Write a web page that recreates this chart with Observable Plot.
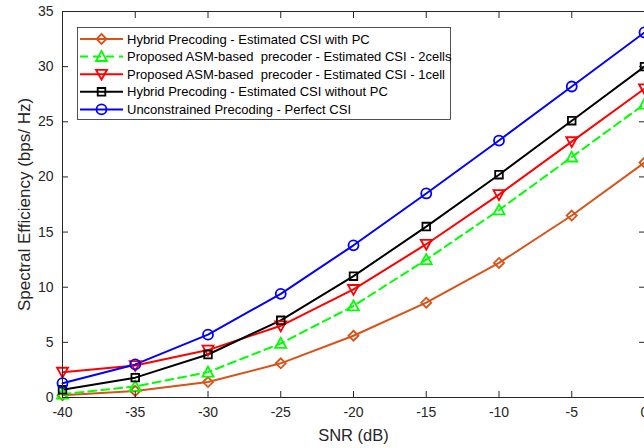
<!DOCTYPE html>
<html><head><meta charset="utf-8">
<script src="https://cdn.jsdelivr.net/npm/d3@7"></script>
<script src="https://cdn.jsdelivr.net/npm/@observablehq/plot@0.6"></script>
<style>
body{margin:0;background:#fff;}
#chart{position:relative;width:644px;height:448px;overflow:hidden;}
</style></head><body><div id="chart"></div>
<script>
// ---- data ----
const snr = [-40, -35, -30, -25, -20, -15, -10, -5, 0];
const seriesNames = [
  "Hybrid Precoding - Estimated CSI with PC",
  "Proposed ASM-based  precoder - Estimated CSI - 2cells",
  "Proposed ASM-based  precoder - Estimated CSI - 1cell",
  "Hybrid Precoding - Estimated CSI without PC",
  "Unconstrained Precoding - Perfect CSI"
];
const hybridPC      = [0.2, 0.6, 1.4, 3.1, 5.6, 8.6, 12.2, 16.5, 21.3];
const asm2cells     = [0.3, 1.0, 2.3, 4.9, 8.3, 12.5, 17.0, 21.8, 26.6];
const asm1cell      = [2.3, 2.9, 4.3, 6.5, 9.8, 13.9, 18.4, 23.2, 28.0];
const hybridNoPC    = [0.7, 1.8, 3.9, 7.0, 11.0, 15.5, 20.2, 25.1, 30.0];
const unconstrained = [1.3, 3.0, 5.7, 9.4, 13.8, 18.5, 23.3, 28.2, 33.1];
const xTicks = [-40, -35, -30, -25, -20, -15, -10, -5, 0];
const yTicks = [0, 5, 10, 15, 20, 25, 30, 35];
const xLabel = "SNR (dB)";
const yLabel = "Spectral Efficiency (bps/ Hz)";

// ---- styles ----
const allValues = [hybridPC, asm2cells, asm1cell, hybridNoPC, unconstrained];
const colors = ["#D95319", "#00FF00", "#FF0000", "#000000", "#0000FF"];
const dashes = [null, "8,5", null, null, null];
const triUp = {draw(ctx, size){ const a = Math.sqrt(size/Math.PI); ctx.moveTo(0,-a); ctx.lineTo(a,0.8*a); ctx.lineTo(-a,0.8*a); ctx.closePath(); }};
const triDown = {draw(ctx, size){ const a = Math.sqrt(size/Math.PI); ctx.moveTo(0,a); ctx.lineTo(a,-0.8*a); ctx.lineTo(-a,-0.8*a); ctx.closePath(); }};
const sq = {draw(ctx, size){ const a = Math.sqrt(size/Math.PI); ctx.rect(-a,-a,2*a,2*a); }};
const dia = {draw(ctx, size){ const a = Math.sqrt(size/Math.PI); ctx.moveTo(0,-a); ctx.lineTo(a,0); ctx.lineTo(0,a); ctx.lineTo(-a,0); ctx.closePath(); }};
const circ = {draw(ctx, size){ const a = Math.sqrt(size/Math.PI); ctx.moveTo(a,0); ctx.arc(0,0,a,0,2*Math.PI); }};
const symbols = [dia, triUp, triDown, sq, circ];
const radii = [5, 5.5, 5.5, 3.8, 5];

const table = seriesNames.map((name, i) => snr.map((x, j) => ({snr: x, value: allValues[i][j], series: name})));

const lineMarks = table.map((d, i) => Plot.line(d, {x: "snr", y: "value", stroke: colors[i], strokeWidth: 2, strokeDasharray: dashes[i] || undefined}));
const dotMarks = table.map((d, i) => Plot.dot(d, {x: "snr", y: "value", stroke: colors[i], strokeWidth: 1.8, fill: "none", symbol: symbols[i], r: radii[i]}));

const fmt = d => String(d);
const plot = Plot.plot({
  width: 644, height: 448,
  marginLeft: 62, marginRight: 0, marginTop: 11, marginBottom: 51,
  style: {fontFamily: "'Liberation Sans', Arial, Helvetica, sans-serif", fontSize: "14px", color: "#262626", background: "white"},
  x: {domain: [-40, 0]},
  y: {domain: [0, 35]},
  marks: [
    ...lineMarks,
    ...dotMarks,
    Plot.frame({stroke: "#262626"}),
    Plot.axisX(xTicks, {anchor: "bottom", tickSize: -6, tickPadding: 16, tickFormat: fmt, label: null, fontSize: 14}),
    Plot.axisX(xTicks, {anchor: "top", tickSize: -6, tickFormat: () => "", label: null}),
    Plot.axisY(yTicks, {anchor: "left", tickSize: -6, tickPadding: 15, tickFormat: fmt, label: null, fontSize: 14}),
    Plot.axisY(yTicks, {anchor: "right", tickSize: -6, tickFormat: () => "", label: null}),
    Plot.text([xLabel], {frameAnchor: "bottom", dy: 38, fontSize: 16.5, fill: "#262626", textAnchor: "middle", lineAnchor: "middle"}),
    Plot.text([yLabel], {frameAnchor: "left", dx: -38, rotate: -90, fontSize: 17, fill: "#262626", textAnchor: "middle", lineAnchor: "middle"})
  ]
});
document.getElementById("chart").appendChild(plot);

// ---- legend (drawn into the plot's svg) ----
const svg = d3.select(plot);
const lg = svg.append("g").attr("transform", "translate(77,27)").attr("text-anchor", "start");
lg.append("rect").attr("x", 0.5).attr("y", 0.5).attr("width", 373).attr("height", 92)
  .attr("fill", "white").attr("stroke", "#262626").attr("stroke-width", 0.8);
seriesNames.forEach((name, i) => {
  const y = 12 + i * 17.6;
  const g = lg.append("g").attr("transform", `translate(0,${y})`);
  g.append("line").attr("x1", 3).attr("x2", 46).attr("y1", 0).attr("y2", 0)
    .attr("stroke", colors[i]).attr("stroke-width", 2).attr("stroke-dasharray", dashes[i]);
  g.append("path").attr("transform", "translate(24.5,0)")
    .attr("d", d3.symbol(symbols[i], Math.PI * radii[i] * radii[i])())
    .attr("fill", "none").attr("stroke", colors[i]).attr("stroke-width", 1.8);
  g.append("text").attr("x", 50).attr("y", 0).attr("dy", "0.35em").attr("text-anchor", "start")
    .attr("font-size", 13).attr("fill", "#000").text(name);
});
</script></body></html>
